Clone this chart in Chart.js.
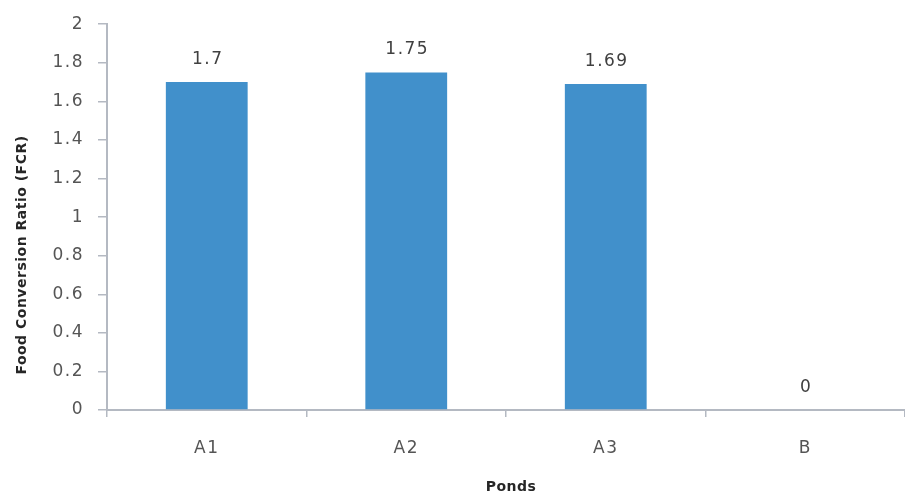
<!DOCTYPE html>
<html>
<head>
<meta charset="utf-8">
<script src="https://cdn.jsdelivr.net/npm/chart.js@4.4.0/dist/chart.umd.min.js"></script>
<style>
  html, body { margin: 0; padding: 0; background: #fff; }
  #wrap { width: 905px; height: 497px; }
</style>
</head>
<body>
<div id="wrap"><canvas id="fcrChart"></canvas></div>
<script>
// Chart data
const ponds = ['A1', 'A2', 'A3', 'B'];
const fcrValues = [1.7, 1.75, 1.69, 0];
const yTicks = [0, 0.2, 0.4, 0.6, 0.8, 1, 1.2, 1.4, 1.6, 1.8, 2];
const xTitle = 'Ponds';
const yTitle = 'Food Conversion Ratio (FCR)';

const axisColor = '#b4b9c2';
const tickColor = '#555555';
const fontFamily = '"DejaVu Sans", sans-serif';

// wide text like the original
const spacing = {
    id: 'spacing',
    beforeLayout(chart) { chart.ctx.letterSpacing = '1.5px'; },
    beforeDraw(chart) { chart.ctx.letterSpacing = '1.5px'; }
};

// Value labels above bars + axis titles
const barLabels = {
    id: 'barLabels',
    afterDatasetsDraw(chart) {
        const ctx = chart.ctx;
        const meta = chart.getDatasetMeta(0);
        ctx.save();
        ctx.letterSpacing = '1.5px';
        ctx.font = '17px ' + fontFamily;
        ctx.fillStyle = '#404040';
        ctx.textAlign = 'center';
        ctx.textBaseline = 'alphabetic';
        meta.data.forEach((bar, i) => {
            ctx.fillText(String(fcrValues[i]), bar.x + 1, bar.y - 18);
        });

        const area = chart.chartArea;
        ctx.letterSpacing = '0.5px';
        ctx.font = 'bold 14px ' + fontFamily;
        ctx.fillStyle = '#262626';
        ctx.textBaseline = 'middle';
        ctx.fillText(xTitle, (area.left + area.right) / 2 + 5, 487);
        ctx.translate(22, 255);
        ctx.rotate(-Math.PI / 2);
        ctx.fillText(yTitle, 0, 0);
        ctx.restore();
    }
};

const ctx = document.getElementById('fcrChart').getContext('2d');
const fcrChart = new Chart(ctx, {
    type: 'bar',
    data: {
        labels: ponds,
        datasets: [{
            label: 'FCR',
            data: fcrValues,
            backgroundColor: '#4190cb',
            borderWidth: 0,
            barPercentage: 0.41,
            categoryPercentage: 1
        }]
    },
    options: {
        responsive: true,
        maintainAspectRatio: false,
        animation: false,
        layout: { padding: { left: 0, right: 0, top: 24, bottom: 0 } },
        plugins: {
            legend: { display: false },
            tooltip: { enabled: false }
        },
        scales: {
            x: {
                afterFit(scale) { scale.height = 87; },
                grid: {
                    display: true,
                    offset: true,
                    drawOnChartArea: false,
                    color: axisColor,
                    lineWidth: 1.5,
                    tickLength: 7
                },
                border: { color: axisColor, width: 2 },
                ticks: {
                    color: tickColor,
                    font: { family: fontFamily, size: 17 },
                    padding: 21
                }
            },
            y: {
                min: 0,
                max: 2,
                afterFit(scale) { scale.width = 107; },
                afterBuildTicks(axis) {
                    axis.ticks = yTicks.map(v => ({ value: v }));
                },
                grid: {
                    display: true,
                    drawOnChartArea: false,
                    color: axisColor,
                    lineWidth: 1.5,
                    tickLength: 9
                },
                border: { color: axisColor, width: 2 },
                ticks: {
                    color: tickColor,
                    font: { family: fontFamily, size: 17 },
                    padding: 14,
                    callback: v => String(v)
                }
            }
        }
    },
    plugins: [spacing, barLabels]
});
</script>
</body>
</html>
